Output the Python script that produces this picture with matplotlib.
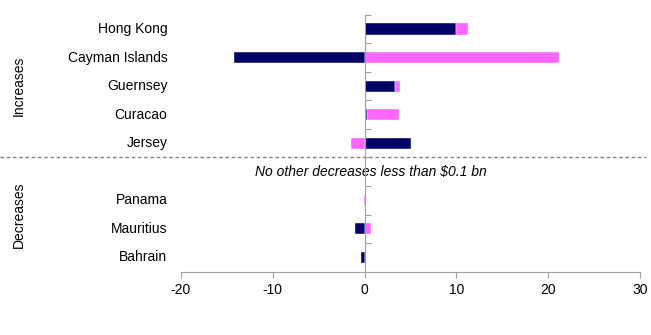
import numpy as np
import matplotlib.pyplot as plt
from matplotlib.transforms import blended_transform_factory

plt.rcParams['font.family'] = ['Liberation Sans', 'DejaVu Sans']

# rows from top to bottom; the empty row holds the note
countries = ['Hong Kong', 'Cayman Islands', 'Guernsey', 'Curacao', 'Jersey',
             '', 'Panama', 'Mauritius', 'Bahrain']
navy_vals = [9.9, -14.2, 3.3, 0.3, 5.0, 0.0, 0.0, -1.0, -0.35]
pink_vals = [1.3, 21.2, 0.6, 3.5, -1.5, 0.0, -0.06, 0.7, 0.0]
xticks = [-20, -10, 0, 10, 20, 30]
note = 'No other decreases less than $0.1 bn'

navy = '#000066'
pink = '#FF66FF'
grey = '#A0A0A0'

fig = plt.figure(figsize=(6.51, 3.35), dpi=100)
ax = fig.add_axes([0.2776, 0.189, 0.706, 0.767])

y = np.arange(len(countries))
navy_arr = np.array(navy_vals)
pink_arr = np.array(pink_vals)

# stack like a spreadsheet: positives on positives, negatives on negatives
pink_left = np.where(np.sign(pink_arr) == np.sign(navy_arr), navy_arr, 0.0)

h = 0.39
ax.barh(y, navy_arr, height=h, color=navy, edgecolor='white', linewidth=0.3)
ax.barh(y, pink_arr, left=pink_left, height=h, color=pink,
        edgecolor='white', linewidth=0.3)

ax.set_xlim(-20, 30)
ax.set_ylim(len(countries) - 0.5, -0.5)
ax.set_xticks(xticks)
ax.set_xticklabels([str(t) for t in xticks], fontsize=10)

for s in ['top', 'right']:
    ax.spines[s].set_visible(False)
ax.spines['left'].set_position(('data', 0))
ax.spines['left'].set_color(grey)
ax.spines['bottom'].set_color(grey)
ax.spines['left'].set_zorder(3)

ax.set_yticks(np.arange(len(countries) + 1) - 0.5)
ax.set_yticklabels([])
ax.tick_params(axis='y', direction='in', length=4, color=grey)
ax.tick_params(axis='x', direction='out', length=4, color=grey, pad=4)

# category names to the left of the plot
tr = blended_transform_factory(ax.transAxes, ax.transData)
for yi, name in zip(y, countries):
    ax.text(-0.029, yi, name, transform=tr, ha='right', va='center',
            fontsize=10)

ax.text(0.7, 5, note, ha='center', va='center', fontsize=10,
        style='italic')

# dashed divider between increases and decreases
ftr = blended_transform_factory(fig.transFigure, ax.transData)
ax.plot([0.0, 0.992], [4.5, 4.5], transform=ftr, color='#808080',
        linestyle=(0, (2.5, 2)), linewidth=1, clip_on=False)

ax.text(0.029, 2, 'Increases', transform=ftr, rotation=90, ha='center',
        va='center', fontsize=10)
ax.text(0.029, 6.5, 'Decreases', transform=ftr, rotation=90, ha='center',
        va='center', fontsize=10)

fig.savefig('out.png', dpi=100)
